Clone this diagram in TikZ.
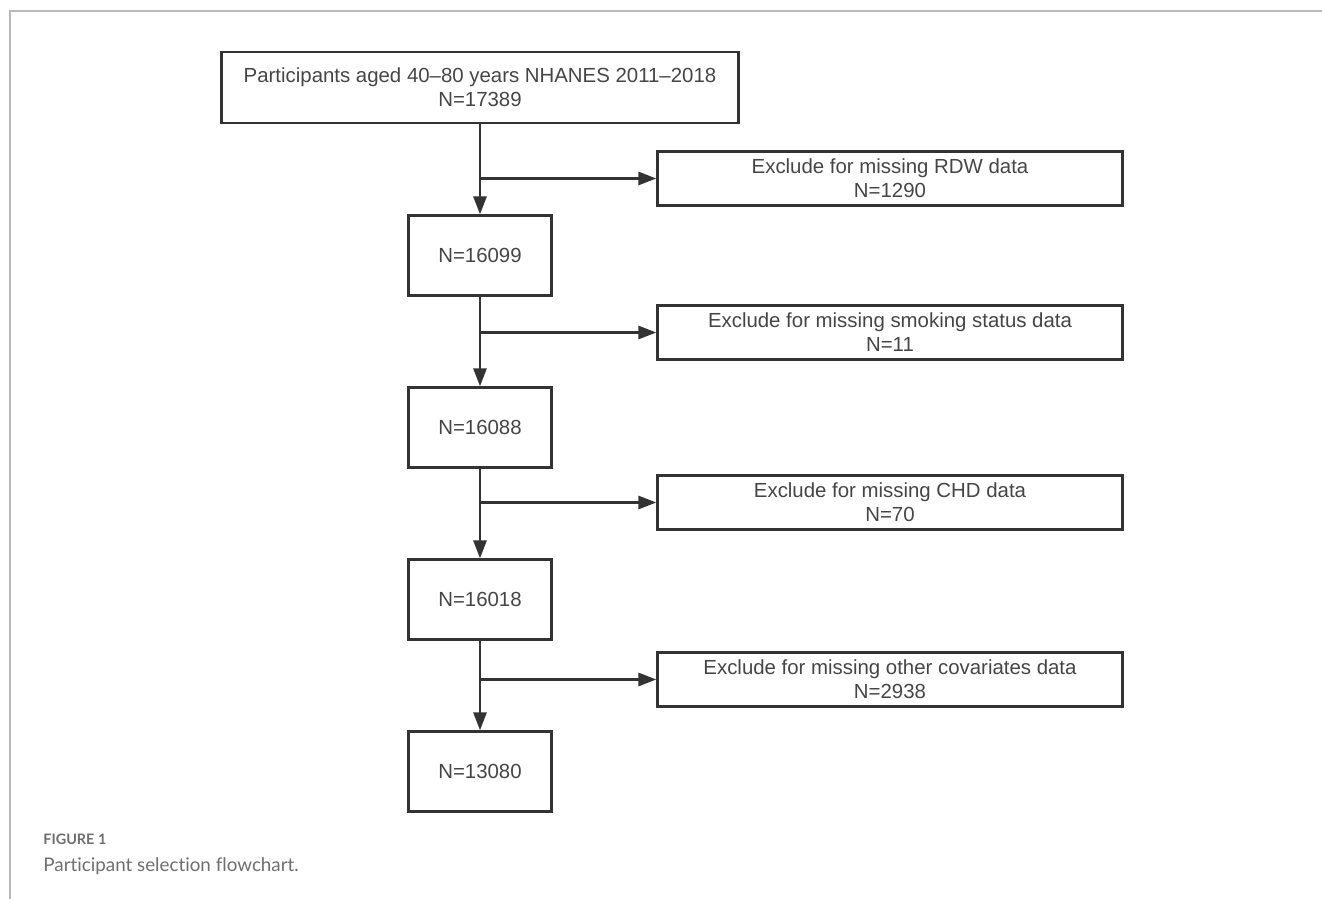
\documentclass[tikz,border=0pt]{standalone}
\usepackage{fontspec}
\setmainfont{Liberation Sans}
\newfontfamily\capfont[Ligatures=NoCommon]{Lato}
\usetikzlibrary{positioning,arrows.meta}
\definecolor{boxline}{HTML}{333333}
\definecolor{boxtext}{HTML}{454545}
\definecolor{framegray}{HTML}{B8B8B8}
\definecolor{captext}{HTML}{6E6E6E}
\tikzset{main box/.style={rectangle,draw=boxline,line width=1.2pt,text=boxtext,font=\fontsize{10.2}{12}\selectfont,align=center,inner sep=0pt},
  count box/.style={main box,minimum width=71.5pt,minimum height=40pt},
  excl box/.style={main box,minimum width=232.5pt,minimum height=27pt},
  flow arrow/.style={draw=boxline,line width=1.2pt,-{Triangle[length=9pt,width=6.6pt]}} }

\begin{document}
\begin{tikzpicture}[x=1pt,y=1pt]
\useasboundingbox (0,0) rectangle (661,-449.5);
\draw[framegray,line width=0.8pt] (661,-5.5) -- (5,-5.5) -- (5,-449.5);
\begin{scope}[on grid]

  \node[main box,minimum width=258.5pt,minimum height=35.5pt] (n1) at (240,-43.75) {Participants aged 40–80 years NHANES 2011–2018\\N=17389};
  \node[count box] (n2) [below=84pt of n1] {N=16099};
  \node[count box] (n3) [below=86pt of n2] {N=16088};
  \node[count box] (n4) [below=86pt of n3] {N=16018};
  \node[count box] (n5) [below=86pt of n4] {N=13080};

  \node[excl box] (x1) [below right=45.5pt and 205pt of n1] {Exclude for missing RDW data\\N=1290};
  \node[excl box] (x2) [below right=38.5pt and 205pt of n2] {Exclude for missing smoking status data\\N=11};
  \node[excl box] (x3) [below right=37.5pt and 205pt of n3] {Exclude for missing CHD data\\N=70};
  \node[excl box] (x4) [below right=40pt and 205pt of n4] {Exclude for missing other covariates data\\N=2938};

    \path
    (n1) edge [flow arrow] (n2)
    (n2) edge [flow arrow] (n3)
    (n3) edge [flow arrow] (n4)
    (n4) edge [flow arrow] (n5)

    (n1 |- x1) edge [flow arrow] (x1)
    (n2 |- x2) edge [flow arrow] (x2)
    (n3 |- x3) edge [flow arrow] (x3)
    (n4 |- x4) edge [flow arrow] (x4)
    ;
    \end{scope}

\node[anchor=west,inner sep=0pt,text=captext,font=\capfont\bfseries\fontsize{7.2}{8}\selectfont] (fig) at (21.5,-419.5) {FIGURE 1};
\node[anchor=west,inner sep=0pt,text=captext,font=\capfont\fontsize{9.4}{10}\selectfont] (cap) at (21.5,-433) {Participant selection flowchart.};
\end{tikzpicture}
\end{document}
